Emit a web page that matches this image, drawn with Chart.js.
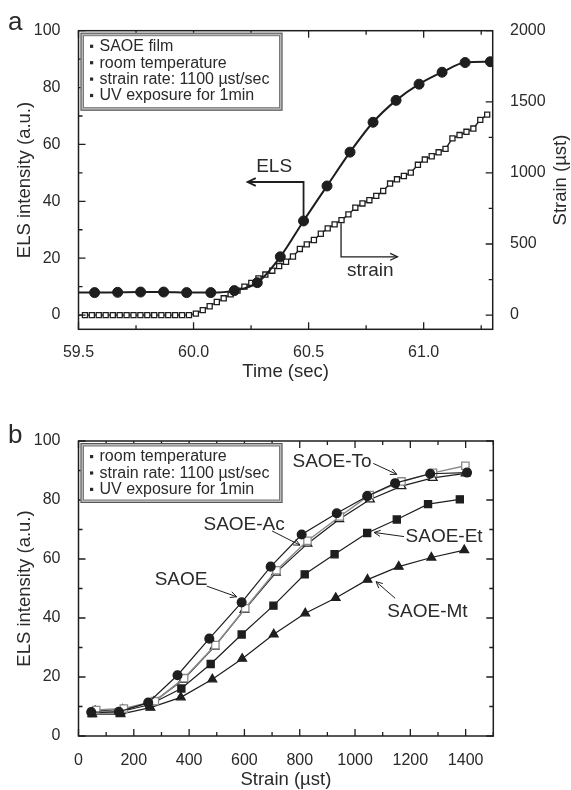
<!DOCTYPE html>
<html>
<head>
<meta charset="utf-8">
<script src="https://cdn.jsdelivr.net/npm/chart.js@4.4.1/dist/chart.umd.min.js"></script>
<style>
  body { margin: 0; background: #fff; }
  .panel { position: absolute; left: 0; }
</style>
</head>
<body>
<canvas id="chartA" class="panel" style="top:0" width="571" height="395"></canvas>
<canvas id="chartB" class="panel" style="top:395px" width="571" height="395"></canvas>
<script>
// ---- panel a: ELS intensity and strain vs time ----
const timeTicks = [59.5, 60.0, 60.5, 61.0];
const elsTicks = [0, 20, 40, 60, 80, 100];
const strainAxisTicks = [0, 500, 1000, 1500, 2000];

const elsTime = [59.47, 59.57, 59.67, 59.77, 59.87, 59.97, 60.075, 60.177, 60.277, 60.377,
                 60.478, 60.58, 60.68, 60.78, 60.88, 60.98, 61.08, 61.18, 61.29];
const elsValue = [8.0, 7.9, 8.0, 8.1, 8.1, 7.9, 7.9, 8.6, 11.4, 20.5,
                  33.1, 45.4, 57.3, 67.8, 75.5, 81.2, 85.4, 88.8, 89.1];

const strainTime = [59.498, 59.528, 59.558, 59.588, 59.618, 59.649, 59.679, 59.709, 59.739, 59.769,
                    59.799, 59.829, 59.860, 59.890, 59.920, 59.950, 59.980, 60.010, 60.040, 60.070,
                    60.101, 60.131, 60.161, 60.191, 60.221, 60.251, 60.282, 60.312, 60.342, 60.372,
                    60.402, 60.432, 60.462, 60.492, 60.523, 60.553, 60.583, 60.613, 60.643, 60.673,
                    60.703, 60.734, 60.764, 60.794, 60.824, 60.854, 60.884, 60.914, 60.944, 60.975,
                    61.005, 61.035, 61.065, 61.095, 61.125, 61.156, 61.186, 61.216, 61.246, 61.276];
const strainValue = [0, 0, 0, 0, 0, 0, 0, 0, 0, 0,
                     0, 0, 0, 0, 0, 0, 0, 10, 35, 62,
                     92, 118, 146, 172, 200, 226, 258, 285, 312, 345,
                     375, 412, 465, 497, 528, 572, 610, 638, 668, 708,
                     755, 785, 808, 838, 873, 925, 955, 978, 1002, 1057,
                     1094, 1117, 1145, 1169, 1243, 1266, 1289, 1312, 1373, 1410];

const legendA = ['SAOE film', 'room temperature', 'strain rate: 1100 \u00b5st/sec', 'UV exposure for 1min'];

// ---- panel b: ELS intensity vs strain for each film ----
const strainTicksB = [0, 200, 400, 600, 800, 1000, 1200, 1400];
const elsTicksB = [0, 20, 40, 60, 80, 100];

const saoeStrain = [46, 146, 252, 358, 473, 590, 695, 807, 934, 1044, 1145, 1272, 1405];
const saoeEls    = [8.1, 8.2, 11.3, 20.6, 33.0, 45.3, 57.4, 68.3, 75.5, 81.3, 85.7, 88.9, 89.3];
const toStrain   = [64, 164, 276, 382, 495, 603, 716, 828, 945, 1053, 1168, 1282, 1399];
const toEls      = [8.8, 9.3, 11.8, 19.6, 30.8, 43.3, 56.2, 66.2, 74.4, 81.7, 86.3, 89.2, 91.6];
const acStrain   = [60, 160, 272, 378, 492, 600, 714, 828, 943, 1054, 1168, 1281, 1400];
const acEls      = [8.5, 9.0, 11.6, 19.0, 30.3, 42.8, 55.4, 65.2, 73.5, 80.2, 84.7, 87.5, 89.0];
const etStrain   = [49, 154, 256, 372, 478, 590, 705, 818, 926, 1044, 1151, 1264, 1379];
const etEls      = [7.8, 8.3, 10.6, 16.1, 24.4, 34.4, 44.2, 54.8, 61.6, 68.8, 73.4, 78.6, 80.2];
const mtStrain   = [50, 152, 260, 370, 484, 592, 706, 820, 930, 1045, 1158, 1276, 1395];
const mtEls      = [7.4, 7.4, 9.6, 13.1, 19.2, 26.2, 34.5, 41.6, 46.8, 53.0, 57.4, 60.5, 63.0];

const legendB = ['room temperature', 'strain rate: 1100 \u00b5st/sec', 'UV exposure for 1min'];

const INK = '#1e1e1e';
const TEXT = '#2a2a2a';
const FONT = "'Liberation Sans', Arial, sans-serif";

function pts(xs, ys) {
    return xs.map((x, i) => ({ x: x, y: ys[i] }));
}

function arrowHead(ctx, x0, y0, x1, y1, size) {
    const a = Math.atan2(y1 - y0, x1 - x0);
    ctx.beginPath();
    ctx.moveTo(x1 - size * Math.cos(a - 0.45), y1 - size * Math.sin(a - 0.45));
    ctx.lineTo(x1, y1);
    ctx.lineTo(x1 - size * Math.cos(a + 0.45), y1 - size * Math.sin(a + 0.45));
    ctx.stroke();
}

// polyline in data coords, arrow head on the last point
function drawArrow(chart, xId, yId, path, width, head) {
    const ctx = chart.ctx;
    const xs = chart.scales[xId], ys = chart.scales[yId];
    const p = path.map(q => [xs.getPixelForValue(q[0]), ys.getPixelForValue(q[1])]);
    ctx.save();
    ctx.strokeStyle = INK;
    ctx.lineWidth = width;
    ctx.beginPath();
    ctx.moveTo(p[0][0], p[0][1]);
    for (let i = 1; i < p.length; i++) ctx.lineTo(p[i][0], p[i][1]);
    ctx.stroke();
    const n = p.length;
    arrowHead(ctx, p[n - 2][0], p[n - 2][1], p[n - 1][0], p[n - 1][1], head);
    ctx.restore();
}

function drawLabel(chart, xId, yId, x, y, text, size) {
    const ctx = chart.ctx;
    ctx.save();
    ctx.font = size + 'px ' + FONT;
    ctx.fillStyle = TEXT;
    ctx.textAlign = 'center';
    ctx.textBaseline = 'middle';
    ctx.fillText(text, chart.scales[xId].getPixelForValue(x), chart.scales[yId].getPixelForValue(y));
    ctx.restore();
}

// inward tick marks on one side of the frame
function sideTicks(chart, scaleId, side, from, to, step, major) {
    const ctx = chart.ctx, area = chart.chartArea, s = chart.scales[scaleId];
    const n = Math.round((to - from) / step);
    ctx.save();
    ctx.strokeStyle = INK;
    ctx.lineWidth = 1.3;
    ctx.beginPath();
    for (let k = 0; k <= n; k++) {
        const v = from + k * step;
        const isMajor = Math.abs(v / major - Math.round(v / major)) < 1e-6;
        const len = isMajor ? 7 : 4;
        const p = s.getPixelForValue(v);
        if (side === 'bottom') { ctx.moveTo(p, area.bottom); ctx.lineTo(p, area.bottom - len); }
        if (side === 'top') { ctx.moveTo(p, area.top); ctx.lineTo(p, area.top + len); }
        if (side === 'left') { ctx.moveTo(area.left, p); ctx.lineTo(area.left + len, p); }
        if (side === 'right') { ctx.moveTo(area.right, p); ctx.lineTo(area.right - len, p); }
    }
    ctx.stroke();
    ctx.restore();
}

function drawFrame(chart) {
    const ctx = chart.ctx, a = chart.chartArea;
    ctx.save();
    ctx.strokeStyle = INK;
    ctx.lineWidth = 1.5;
    ctx.strokeRect(a.left, a.top, a.right - a.left, a.bottom - a.top);
    ctx.restore();
}

function drawLegendBox(chart, lines, h) {
    const ctx = chart.ctx, a = chart.chartArea;
    const x = a.left + 2, y = a.top + 2, w = 202;
    ctx.save();
    ctx.fillStyle = '#b8b8b8';
    ctx.fillRect(x, y, w, h);
    ctx.fillStyle = '#fff';
    ctx.fillRect(x + 3, y + 3, w - 6, h - 6);
    ctx.strokeStyle = '#555';
    ctx.lineWidth = 1;
    ctx.strokeRect(x + 0.5, y + 0.5, w - 1, h - 1);
    ctx.strokeStyle = '#777';
    ctx.strokeRect(x + 3, y + 3, w - 6, h - 6);
    ctx.font = '16px ' + FONT;
    ctx.textBaseline = 'middle';
    ctx.fillStyle = TEXT;
    lines.forEach((t, i) => {
        const cy = y + 13.5 + i * 16.4;
        ctx.fillRect(x + 9.5, cy - 1.5, 3.2, 3.2);
        ctx.fillText(t, x + 19, cy + 0.5);
    });
    ctx.restore();
}

function panelLetter(chart, letter, baseline) {
    const ctx = chart.ctx;
    ctx.save();
    ctx.font = '26px ' + FONT;
    ctx.fillStyle = TEXT;
    ctx.textBaseline = 'alphabetic';
    ctx.fillText(letter, 8, baseline);
    ctx.restore();
}

const tickFont = { family: FONT, size: 16 };
const titleFont = { family: FONT, size: 18.5, lineHeight: 1 };
const plainLabel = v => String(v);

// ---------------- panel a ----------------
const decorA = {
    id: 'decorA',
    afterDatasetsDraw(chart) {
        drawFrame(chart);
        sideTicks(chart, 'x', 'bottom', 59.5, 61.25, 0.25, 0.5);
        sideTicks(chart, 'x', 'top', 59.5, 61.25, 0.25, 0.5);
        sideTicks(chart, 'y', 'left', 0, 100, 10, 20);
        sideTicks(chart, 'y2', 'right', 0, 2000, 250, 500);
        drawLegendBox(chart, legendA, 78);
        drawArrow(chart, 'x', 'y', [[60.478, 34.5], [60.478, 46.8], [60.235, 46.8]], 1.8, 9);
        drawLabel(chart, 'x', 'y', 60.35, 52.2, 'ELS', 19);
        drawArrow(chart, 'x', 'y', [[60.641, 32.3], [60.641, 20.5], [60.886, 20.5]], 1.3, 8);
        drawLabel(chart, 'x', 'y', 60.768, 15.5, 'strain', 19);
        // right axis title, reading upwards
        const ctx = chart.ctx, a = chart.chartArea;
        ctx.save();
        ctx.translate(561, (a.top + a.bottom) / 2);
        ctx.rotate(-Math.PI / 2);
        ctx.font = '18.5px ' + FONT;
        ctx.fillStyle = TEXT;
        ctx.textAlign = 'center';
        ctx.textBaseline = 'middle';
        ctx.fillText('Strain (\u00b5st)', 0, 0);
        ctx.restore();
        panelLetter(chart, 'a', 30);
    }
};

new Chart(document.getElementById('chartA'), {
    type: 'line',
    data: {
        datasets: [{
            label: 'ELS',
            data: pts(elsTime, elsValue),
            yAxisID: 'y',
            borderColor: INK,
            borderWidth: 2,
            cubicInterpolationMode: 'monotone',
            pointStyle: 'circle',
            pointRadius: c => (c.raw && c.raw.x < 59.5 ? 0 : 5),
            pointBackgroundColor: INK,
            pointBorderColor: INK,
            pointBorderWidth: 1
        }, {
            label: 'strain',
            data: pts(strainTime, strainValue),
            yAxisID: 'y2',
            borderColor: INK,
            borderWidth: 1.4,
            tension: 0,
            pointStyle: 'rect',
            pointRadius: c => (c.raw && c.raw.x < 59.5 ? 0 : 3.6),
            pointBackgroundColor: '#fff',
            pointBorderColor: INK,
            pointBorderWidth: 1.3
        }]
    },
    options: {
        responsive: false,
        animation: false,
        devicePixelRatio: 1,
        layout: { padding: { top: 30.7, left: 0, right: 0, bottom: 0 } },
        plugins: { legend: { display: false }, tooltip: { enabled: false } },
        scales: {
            x: {
                type: 'linear', position: 'bottom', min: 59.5, max: 61.3,
                afterBuildTicks: s => { s.ticks = timeTicks.map(v => ({ value: v })); },
                afterFit: s => { s.height = 65.7; },
                grid: { display: false }, border: { display: false },
                ticks: { font: tickFont, color: TEXT, padding: 6, maxRotation: 0, autoSkip: false,
                         callback: v => Number(v).toFixed(1) },
                title: { display: true, text: 'Time (sec)', font: titleFont, color: TEXT,
                         padding: { top: 0, bottom: 14 } }
            },
            y: {
                type: 'linear', position: 'left', min: -5, max: 100,
                afterBuildTicks: s => { s.ticks = elsTicks.map(v => ({ value: v })); },
                afterFit: s => { s.width = 78.5; },
                grid: { display: false }, border: { display: false },
                ticks: { font: tickFont, color: TEXT, padding: 10, callback: plainLabel },
                title: { display: true, text: 'ELS intensity (a.u.)', font: titleFont, color: TEXT,
                         padding: { top: 15.75, bottom: 0 } }
            },
            y2: {
                type: 'linear', position: 'right', min: -100, max: 2000,
                afterBuildTicks: s => { s.ticks = strainAxisTicks.map(v => ({ value: v })); },
                afterFit: s => { s.width = 78.3; },
                grid: { display: false }, border: { display: false },
                ticks: { font: tickFont, color: TEXT, padding: 9.3, callback: plainLabel }
            }
        }
    },
    plugins: [decorA]
});

// ---------------- panel b ----------------
const decorB = {
    id: 'decorB',
    afterDatasetsDraw(chart) {
        drawFrame(chart);
        sideTicks(chart, 'x', 'bottom', 0, 1500, 100, 200);
        sideTicks(chart, 'x', 'top', 0, 1500, 100, 200);
        sideTicks(chart, 'y', 'left', 0, 100, 10, 20);
        sideTicks(chart, 'y', 'right', 0, 100, 10, 20);
        drawLegendBox(chart, legendB, 60);
        drawLabel(chart, 'x', 'y', 917, 92.9, 'SAOE-To', 19);
        drawArrow(chart, 'x', 'y', [[1066, 92.4], [1151, 88.7]], 1, 7);
        drawLabel(chart, 'x', 'y', 599, 71.5, 'SAOE-Ac', 19);
        drawArrow(chart, 'x', 'y', [[700, 69.5], [801, 64.7]], 1, 7);
        drawLabel(chart, 'x', 'y', 371, 52.9, 'SAOE', 19);
        drawArrow(chart, 'x', 'y', [[464, 50.8], [572, 47.2]], 1, 7);
        drawLabel(chart, 'x', 'y', 1322, 67.5, 'SAOE-Et', 19);
        drawArrow(chart, 'x', 'y', [[1177, 67.6], [1069, 69.0]], 1, 7);
        drawLabel(chart, 'x', 'y', 1262, 42.1, 'SAOE-Mt', 19);
        drawArrow(chart, 'x', 'y', [[1145, 46.7], [1076, 52.3]], 1, 7);
        panelLetter(chart, 'b', 48);
    }
};

function seriesB(label, xs, ys, style, radius, fill, edge, lineColor, lineWidth) {
    return {
        label: label,
        data: pts(xs, ys),
        borderColor: lineColor,
        borderWidth: lineWidth,
        tension: 0,
        pointStyle: style,
        pointRadius: radius,
        pointBackgroundColor: fill,
        pointBorderColor: edge,
        pointBorderWidth: 1.3
    };
}

new Chart(document.getElementById('chartB'), {
    type: 'line',
    data: {
        datasets: [
            seriesB('SAOE', saoeStrain, saoeEls, 'circle', 4.4, INK, INK, INK, 1.2),
            seriesB('SAOE-To', toStrain, toEls, 'rect', 5.2, '#fff', '#8a8a8a', '#8a8a8a', 1.5),
            seriesB('SAOE-Ac', acStrain, acEls, 'triangle', 5, '#fff', INK, INK, 1.2),
            seriesB('SAOE-Et', etStrain, etEls, 'rect', 5, INK, INK, INK, 1.2),
            seriesB('SAOE-Mt', mtStrain, mtEls, 'triangle', 5, INK, INK, INK, 1.2)
        ]
    },
    options: {
        responsive: false,
        animation: false,
        devicePixelRatio: 1,
        layout: { padding: { top: 46, left: 0, right: 77.7, bottom: 0 } },
        plugins: { legend: { display: false }, tooltip: { enabled: false } },
        scales: {
            x: {
                type: 'linear', position: 'bottom', min: 0, max: 1500,
                afterBuildTicks: s => { s.ticks = strainTicksB.map(v => ({ value: v })); },
                afterFit: s => { s.height = 54; },
                grid: { display: false }, border: { display: false },
                ticks: { font: tickFont, color: TEXT, padding: 6.7, maxRotation: 0, autoSkip: false,
                         callback: plainLabel },
                title: { display: true, text: 'Strain (\u00b5st)', font: titleFont, color: TEXT,
                         padding: { top: 0, bottom: 0.75 } }
            },
            y: {
                type: 'linear', position: 'left', min: 0, max: 100,
                afterBuildTicks: s => { s.ticks = elsTicksB.map(v => ({ value: v })); },
                afterFit: s => { s.width = 78.5; },
                grid: { display: false }, border: { display: false },
                ticks: { font: tickFont, color: TEXT, padding: 10, callback: plainLabel },
                title: { display: true, text: 'ELS intensity (a.u.)', font: titleFont, color: TEXT,
                         padding: { top: 15.75, bottom: 0 } }
            }
        }
    },
    plugins: [decorB]
});
</script>
</body>
</html>
